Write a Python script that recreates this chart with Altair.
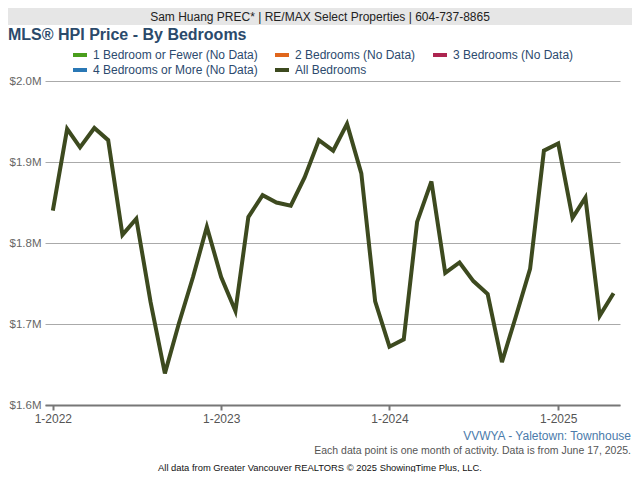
import altair as alt
import pandas as pd

# ---- data ----
months = pd.date_range("2022-01-01", periods=41, freq="MS").strftime("%Y-%m-%d").tolist()
price_all_m = [
    1.840, 1.941, 1.918, 1.942, 1.927, 1.810, 1.830, 1.727, 1.639, 1.700, 1.758, 1.820,
    1.758, 1.716, 1.832, 1.859, 1.850, 1.846, 1.881, 1.927, 1.914, 1.947, 1.886, 1.728,
    1.672, 1.681, 1.826, 1.876, 1.763, 1.776, 1.753, 1.737, 1.653, 1.709, 1.768, 1.914,
    1.923, 1.831, 1.856, 1.710, 1.738,
]
series_names = [
    "1 Bedroom or Fewer (No Data)",
    "2 Bedrooms (No Data)",
    "3 Bedrooms (No Data)",
    "4 Bedrooms or More (No Data)",
    "All Bedrooms",
]
series_colors = ["#4a9e1c", "#e0661c", "#ad2550", "#2a78b5", "#3d4a1f"]
y_ticks = [1.6e6, 1.7e6, 1.8e6, 1.9e6, 2.0e6]
x_tick_years = [2022, 2023, 2024, 2025]

df = pd.DataFrame({
    "date": months,
    "price": [v * 1e6 for v in price_all_m],
    "series": "All Bedrooms",
})

FONT = "Liberation Sans"

line = alt.Chart(df).mark_line(strokeWidth=4, strokeJoin="miter").encode(
    x=alt.X(
        "date:T",
        scale=alt.Scale(
            type="utc",
            domain=[alt.DateTime(year=2021, month=12, date=15, utc=True),
                    alt.DateTime(year=2025, month=5, date=15, utc=True)],
        ),
        axis=alt.Axis(
            title=None,
            values=[alt.DateTime(year=y, month=1, date=1, utc=True) for y in x_tick_years],
            labelExpr="(utcmonth(datum.value) + 1) + '-' + utcyear(datum.value)",
            grid=False,
            domainColor="#777777",
            domainWidth=2,
            tickColor="#777777",
            tickWidth=2,
            tickSize=5,
            labelPadding=3,
            labelFont=FONT,
            labelFontSize=12,
            labelColor="#555555",
        ),
    ),
    y=alt.Y(
        "price:Q",
        scale=alt.Scale(domain=[1.6e6, 2.0e6], nice=False, zero=False),
        axis=alt.Axis(
            title=None,
            values=y_ticks,
            labelExpr="'$' + format(datum.value / 1000000, '.1f') + 'M'",
            domain=False,
            ticks=False,
            tickSize=0,
            labelPadding=4,
            grid=True,
            gridColor="#aaaaaa",
            gridWidth=1,
            labelFont=FONT,
            labelFontSize=11.5,
            labelColor="#666666",
        ),
    ),
    color=alt.Color(
        "series:N",
        scale=alt.Scale(domain=series_names, range=series_colors),
        legend=alt.Legend(
            title=None,
            orient="none",
            legendX=28,
            legendY=-33,
            direction="horizontal",
            columns=3,
            symbolType="M-1.4,0H1.4",
            symbolStrokeWidth=4,
            symbolSize=100,
            labelFont=FONT,
            labelFontSize=12,
            labelColor="#2c4a6e",
            labelOffset=6,
            labelLimit=400,
            columnPadding=9,
            rowPadding=-4,
        ),
    ),
)

one = alt.Data(values=[{}])


def txt(s, x, y, **kw):
    return alt.Chart(one).mark_text(text=s, font=FONT, baseline="middle", **kw).encode(
        x=alt.value(x), y=alt.value(y)
    )


header_bar = alt.Chart(one).mark_rect(color="#e6e6e6").encode(
    x=alt.value(-37), x2=alt.value(587), y=alt.value(-73), y2=alt.value(-56)
)
header = txt("Sam Huang PREC* | RE/MAX Select Properties | 604-737-8865", 275, -64.5,
             align="center", fontSize=12, color="#222222")
title = txt("MLS® HPI Price - By Bedrooms", -37, -46, align="left", fontSize=16,
            fontWeight="bold", color="#2b4a6b")
area = txt("VVWYA - Yaletown: Townhouse", 586, 355, align="right", fontSize=12,
           color="#4b7bab")
note = txt("Each data point is one month of activity. Data is from June 17, 2025.", 586, 370,
           align="right", fontSize=10.5, color="#555555")
credit = txt("All data from Greater Vancouver REALTORS © 2025 ShowingTime Plus, LLC.", 275, 387,
             align="center", fontSize=9.4, color="#111111")

chart = alt.layer(header_bar, header, title, line, area, note, credit).properties(
    width=575,
    height=324,
    padding={"left": 37, "top": 73, "right": 12, "bottom": 67},
    autosize=alt.AutoSizeParams(type="none"),
    background="white",
).configure_view(stroke=None).configure_legend(rowPadding=-4)

chart.save("out.html", embed_options={"renderer": "svg", "actions": False})
